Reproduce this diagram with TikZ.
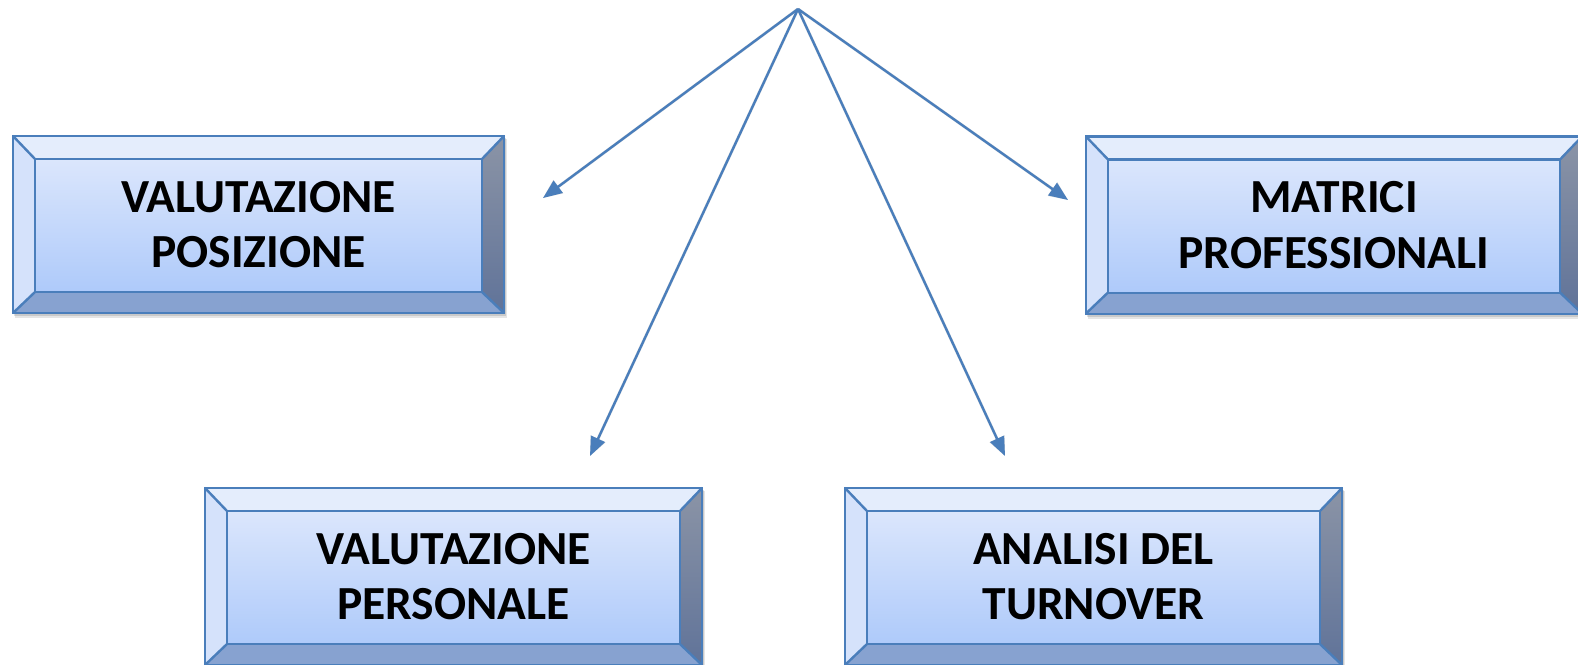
\documentclass[tikz,border=0pt]{standalone}
\usepackage{fontspec}
\setmainfont{Carlito}
\usetikzlibrary{calc,arrows.meta,backgrounds}

\definecolor{edgeblue}{RGB}{74,126,187}
\definecolor{bevtop}{RGB}{228,237,252}
\definecolor{bevleft}{RGB}{213,226,251}
\definecolor{bevbottom}{RGB}{135,162,208}
\definecolor{bevrightA}{RGB}{139,148,166}
\definecolor{bevrightB}{RGB}{96,115,153}
\definecolor{faceA}{RGB}{219,230,252}
\definecolor{faceB}{RGB}{174,202,250}

\tikzset{
  labelbox/.style={rectangle, inner sep=0pt, minimum width=494pt, minimum height=177pt,
    align=center, text=black, font=\fontsize{47.5}{55.5}\selectfont\bfseries},
  edge/.style={draw=edgeblue, line width=2.4pt, line join=miter},
  link/.style={draw=edgeblue, line width=2.4pt, -{Triangle[length=19pt,width=15pt]}},
  linkshadow/.style={draw=black, opacity=0.12, line width=3pt, -{Triangle[length=19pt,width=16pt]}},
}

% bevelled frame behind a box node: #1 = node name
\newcommand\bevelframe[1]{%
  \begin{pgfonlayer}{background}
    \coordinate (A) at (#1.north west);
    \coordinate (B) at (#1.north east);
    \coordinate (C) at (#1.south east);
    \coordinate (D) at (#1.south west);
    \coordinate (a) at ($(A)+(22,23)$);
    \coordinate (b) at ($(B)+(-22,23)$);
    \coordinate (c) at ($(C)+(-22,-21)$);
    \coordinate (d) at ($(D)+(22,-21)$);
    % soft drop shadow
    \fill[black, opacity=0.10] ($(A)+(2,3)$) rectangle ($(C)+(3,5)$);
    \fill[black, opacity=0.12] ($(A)+(1,2)$) rectangle ($(C)+(2,3)$);
    % bevel faces
    \fill[bevtop] (A) -- (B) -- (b) -- (a) -- cycle;
    \fill[bevleft] (A) -- (a) -- (d) -- (D) -- cycle;
    \shade[top color=bevrightA, bottom color=bevrightB] (B) -- (C) -- (c) -- (b) -- cycle;
    \fill[bevbottom] (D) -- (d) -- (c) -- (C) -- cycle;
    \shade[top color=faceA, bottom color=faceB] (a) rectangle (c);
    % outlines
    \draw[edge] (A) rectangle (C);
    \draw[edge] (a) rectangle (c);
    \draw[edge] (A) -- (a) (B) -- (b) (C) -- (c) (D) -- (d);
  \end{pgfonlayer}%
}

\begin{document}
\begin{tikzpicture}[x=1pt, y=-1pt]
  \useasboundingbox (0,0) rectangle (1578,664);
  \clip (0,0) rectangle (1578,664);

  % boxes
  \node[labelbox, minimum width=491pt] (vpos) at (258.5,224.5) {VALUTAZIONE\\POSIZIONE};
  \node[labelbox, minimum width=496pt] (mprof) at (1334,225) {MATRICI\\PROFESSIONALI};
  \node[labelbox, minimum width=497pt] (vpers) at (453.5,576.5) {VALUTAZIONE\\PERSONALE};
  \node[labelbox, minimum width=497pt] (aturn) at (1093.5,576.5) {ANALISI DEL\\TURNOVER};

  \bevelframe{vpos}
  \bevelframe{mprof}
  \bevelframe{vpers}
  \bevelframe{aturn}

  % connectors from the common origin
  \coordinate (src) at (798,9);
  \coordinate (tvpos) at (543,198);
  \coordinate (tmprof) at (1068,200);
  \coordinate (tvpers) at (590,456);
  \coordinate (taturn) at (1005,456);

  \begin{scope}[shift={(2,3)}]
    \foreach \t in {tvpos,tmprof,tvpers,taturn}
      \draw[linkshadow] (src) -- (\t);
  \end{scope}
  \foreach \t in {tvpos,tmprof,tvpers,taturn}
    \draw[link] (src) -- (\t);
\end{tikzpicture}
\end{document}
